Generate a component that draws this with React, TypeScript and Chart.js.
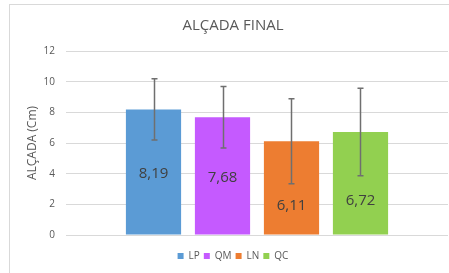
import React, { useEffect, useRef } from "react";
import { Chart, registerables } from "chart.js";

Chart.register(...registerables);

const categories = [""];
const seriesNames = ["LP", "QM", "LN", "QC"];
const seriesValues = [8.19, 7.68, 6.11, 6.72];
const seriesErrors = [2.0, 2.0, 2.77, 2.85];
const seriesColors = ["#5B9BD5", "#C55AFF", "#ED7D31", "#92D050"];
const yTicks = [0, 2, 4, 6, 8, 10, 12];
const titleText = "ALÇADA FINAL";
const yTitle = "ALÇADA (Cm)";
// fraction of bar height where the value label sits (visual style)
const labelFractions = [0.49, 0.49, 0.31, 0.33];

const FONT = "'Open Sans', sans-serif";

const framePlugin = {
  id: "frame",
  beforeDraw(chart: any) {
    const ctx = chart.ctx;
    ctx.save();
    ctx.fillStyle = "#ffffff";
    ctx.fillRect(0, 0, chart.width, chart.height);
    ctx.strokeStyle = "#d9d9d9";
    ctx.lineWidth = 1;
    ctx.strokeRect(9.5, 4.5, chart.width + 20, chart.height + 20);
    ctx.restore();
  },
};

const errorBarPlugin = {
  id: "errorBars",
  afterDatasetsDraw(chart: any) {
    const ctx = chart.ctx;
    const y = chart.scales.y;
    ctx.save();
    chart.data.datasets.forEach((ds: any, i: number) => {
      const meta = chart.getDatasetMeta(i);
      meta.data.forEach((bar: any, j: number) => {
        const v = ds.data[j];
        const e = seriesErrors[i];
        const top = y.getPixelForValue(v + e);
        const bot = y.getPixelForValue(v - e);
        const x = Math.round(bar.x) + 0.5;
        ctx.strokeStyle = "#6f6f6f";
        ctx.lineWidth = 1.5;
        ctx.beginPath();
        ctx.moveTo(x, top);
        ctx.lineTo(x, bot);
        ctx.moveTo(x - 3, top);
        ctx.lineTo(x + 3, top);
        ctx.moveTo(x - 3, bot);
        ctx.lineTo(x + 3, bot);
        ctx.stroke();
      });
    });
    ctx.restore();
  },
};

const valueLabelPlugin = {
  id: "valueLabels",
  afterDraw(chart: any) {
    const ctx = chart.ctx;
    const y = chart.scales.y;
    ctx.save();
    ctx.font = `15px ${FONT}`;
    ctx.fillStyle = "#404040";
    ctx.textAlign = "center";
    ctx.textBaseline = "middle";
    chart.data.datasets.forEach((ds: any, i: number) => {
      const meta = chart.getDatasetMeta(i);
      meta.data.forEach((bar: any, j: number) => {
        const v = ds.data[j];
        const py = y.getPixelForValue(v * labelFractions[i]);
        ctx.fillText(v.toFixed(2).replace(".", ","), bar.x, py);
      });
    });
    ctx.restore();
  },
};

export default function App() {
  const ref = useRef<HTMLCanvasElement | null>(null);

  useEffect(() => {
    document.body.style.margin = "0";
    if (!ref.current) return;
    Chart.defaults.font.family = FONT;
    const chart = new Chart(ref.current, {
      type: "bar",
      data: {
        labels: categories,
        datasets: seriesNames.map((name, i) => ({
          label: name,
          data: [seriesValues[i]],
          backgroundColor: seriesColors[i],
          borderWidth: 0,
        })),
      },
      options: {
        animation: false,
        responsive: false,
        maintainAspectRatio: false,
        categoryPercentage: 0.7225,
        barPercentage: 0.8,
        layout: { padding: { left: 18, right: 1, top: 10, bottom: 2 } },
        plugins: {
          title: {
            display: true,
            text: titleText,
            color: "#595959",
            font: { size: 15, weight: "normal", family: FONT },
            padding: { top: 7, bottom: 16 },
          },
          legend: {
            position: "bottom",
            title: {
              display: true,
              text: "",
              font: { size: 10 },
              padding: 0,
            },
            labels: {
              boxWidth: 6,
              boxHeight: 6,
              color: "#595959",
              font: { size: 10, family: FONT },
              padding: 4,
            },
          },
          tooltip: { enabled: false },
        },
        scales: {
          x: {
            display: false,
            grid: { display: false },
          },
          y: {
            min: 0,
            max: 12,
            afterBuildTicks(scale: any) {
              scale.ticks = yTicks.map((v) => ({ value: v }));
            },
            afterFit(scale: any) {
              scale.width = 48;
            },
            border: { display: false },
            grid: { color: "#d9d9d9", lineWidth: 1, drawTicks: false },
            ticks: {
              color: "#595959",
              font: { size: 10, family: FONT },
              padding: 11,
            },
            title: {
              display: true,
              text: yTitle,
              color: "#595959",
              font: { size: 12, family: FONT },
              padding: { top: 7, bottom: 4 },
            },
          },
        },
      },
      plugins: [framePlugin, errorBarPlugin, valueLabelPlugin],
    } as any);
    return () => chart.destroy();
  }, []);

  return (
    <div style={{ width: 449, height: 273 }}>
      <canvas ref={ref} width={449} height={273} style={{ display: "block" }} />
    </div>
  );
}
